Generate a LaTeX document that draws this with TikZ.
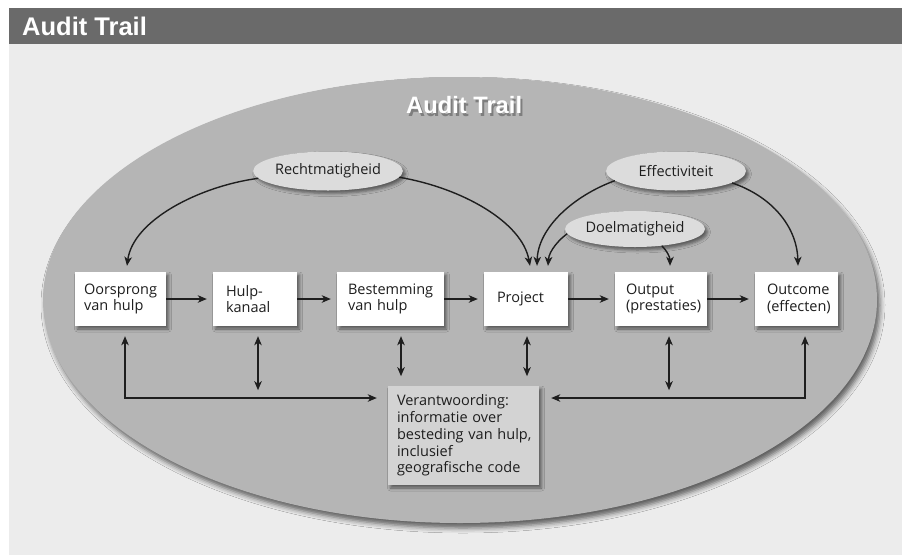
\documentclass[tikz,border=0pt]{standalone}
\usepackage{fontspec}
\setmainfont{Open Sans}
\newfontfamily\titlefont{Liberation Sans}
\usetikzlibrary{arrows.meta,shapes.geometric,shadows.blur}
\definecolor{panel}{HTML}{ECECEC}
\definecolor{bar}{HTML}{6A6A6A}
\definecolor{bigfill}{HTML}{B5B5B5}
\definecolor{ovalfill}{HTML}{DCDCDC}
\definecolor{vfill}{HTML}{D3D3D3}
\definecolor{ink}{HTML}{1E1E1E}
\begin{document}
\begin{tikzpicture}[x=1pt,y=-1pt,
  tip/.tip={Stealth[length=9pt,width=7.5pt,inset=2.5pt]},
  arr/.style={line width=1.4pt, draw=ink, -tip},
  darr/.style={line width=1.4pt, draw=ink, tip-tip},
  bodyfont/.style={font=\fontsize{14.5}{16.8}\selectfont, text=ink},
  boxshadow/.style={blur shadow={shadow xshift=2.5pt, shadow yshift=-3pt, shadow blur radius=3pt, shadow opacity=50}},
  box/.style={rectangle, fill=white, minimum height=54pt, inner ysep=0pt, align=left, bodyfont, boxshadow},
  oval/.style={ellipse, fill=ovalfill, inner sep=0pt, bodyfont, boxshadow},
  vbox/.style={rectangle, fill=vfill, minimum height=99pt, inner xsep=9pt, text width=133pt, align=left, bodyfont, boxshadow},
]
\useasboundingbox (0,0) rectangle (902,555);
\fill[white] (0,0) rectangle (902,555);
\fill[panel] (9,44) rectangle (902,555);
\fill[bar] (9,8) rectangle (902,44);
\node[anchor=base west, inner sep=0pt, text=white, font=\titlefont\bfseries\fontsize{25.5}{30}\selectfont] (title) at (22,35) {Audit Trail};

% big ellipse
\node[ellipse, minimum width=834pt, minimum height=446pt, fill=bigfill,
  blur shadow={shadow xshift=3pt, shadow yshift=-5pt, shadow blur radius=5pt, shadow opacity=60}] (audit) at (460,300) {};
\node[anchor=base west, inner sep=0pt, text=black, opacity=0.3, font=\titlefont\bfseries\fontsize{23.7}{28}\selectfont] (ashadow) at (408,116) {Audit Trail};
\node[anchor=base west, inner sep=0pt, text=white, font=\titlefont\bfseries\fontsize{23.7}{28}\selectfont] (atitle) at (406,113) {Audit Trail};

% ovals
\node[oval, minimum width=140pt, minimum height=39pt] (R) at (328,171) {Rechtmatigheid};
\node[oval, minimum width=140pt, minimum height=39pt] (E) at (676,171) {Effectiviteit};
\node[oval, minimum width=125pt, minimum height=36pt] (D) at (635,229) {Doelmatigheid};

% boxes
\node[box, inner xsep=9pt,  text width=73pt] (O)  at (120.5,299) {Oorsprong\\van hulp};
\node[box, inner xsep=13pt, text width=58pt] (H)  at (255,299)   {Hulp-\\kanaal};
\node[box, inner xsep=11pt, text width=85pt] (B)  at (390.5,299) {Bestemming\\van hulp};
\node[box, inner xsep=13pt, text width=58pt] (P)  at (526,299)   {Project};
\node[box, inner xsep=11pt, text width=70pt] (Ou) at (661,299)   {Output\\(prestaties)};
\node[box, inner xsep=12pt, text width=59pt] (Oc) at (796.5,299) {Outcome\\(effecten)};

\node[vbox] (V) at (463.5,435.5) {\mbox{Verantwoording:}\\\mbox{informatie over}\\\mbox{besteding van hulp,}\\\mbox{inclusief}\\\mbox{geografische code}};

% horizontal arrows
\draw[arr, shorten >=6pt] (O) -- (H);
\draw[arr, shorten >=6pt] (H) -- (B);
\draw[arr, shorten >=6pt] (B) -- (P);
\draw[arr, shorten >=6pt] (P) -- (Ou);
\draw[arr, shorten >=6pt] (Ou) -- (Oc);

% curved arrows
\draw[arr] (R.186) .. controls (200,186) and (133,220) .. ([xshift=6.5pt,yshift=6pt]O.north);
\draw[arr] (R.355) .. controls (462,188) and (522,222) .. ([xshift=4pt,yshift=6pt]P.north);
\draw[arr] (E.189) .. controls (573,196) and (538,228) .. ([xshift=11pt,yshift=6pt]P.north);
\draw[arr] (D.184) .. controls (561,238) and (549,250) .. ([xshift=22pt,yshift=6pt]P.north);
\draw[arr] (D.328) .. controls (667,251) and (670,257) .. ([xshift=9pt,yshift=6pt]Ou.north);
\draw[arr] (E.348) .. controls (771,196) and (797,226) .. ([xshift=1.5pt,yshift=6pt]Oc.north);

% vertical double arrows
\draw[darr] ([xshift=3pt,yshift=-10pt]H.south) -- ++(0,54);
\draw[darr] ([xshift=10.5pt,yshift=-10pt]B.south) -- ++(0,40);
\draw[darr] ([xshift=1pt,yshift=-10pt]P.south) -- ++(0,40);
\draw[darr] ([xshift=8pt,yshift=-10pt]Ou.south) -- ++(0,54);

% side connectors to accountability box
\draw[darr] ([xshift=4.5pt,yshift=-10pt]O.south) |- ([xshift=-11pt,yshift=37.5pt]V.west);
\draw[darr] ([xshift=8.5pt,yshift=-10pt]Oc.south) |- ([xshift=12pt,yshift=37.5pt]V.east);
\end{tikzpicture}
\end{document}
